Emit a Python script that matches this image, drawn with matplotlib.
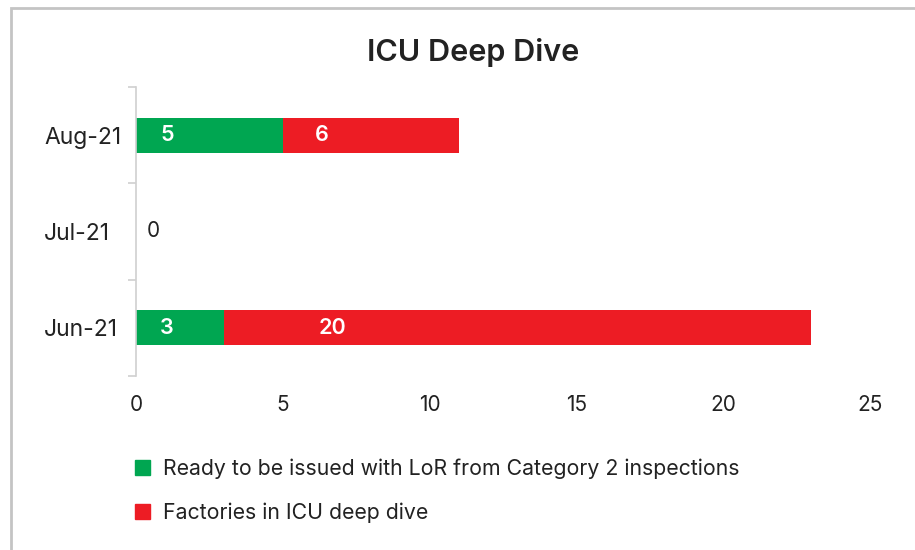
import numpy as np
import matplotlib.pyplot as plt
from matplotlib.patches import Rectangle

plt.rcParams['font.family'] = ['Inter', 'DejaVu Sans']

# ---------------- DATA ----------------
months = ["Jun-21", "Jul-21", "Aug-21"]
ready = [3, 0, 5]
factories = [20, 0, 6]
series_names = ["Ready to be issued with LoR from Category 2 inspections",
                "Factories in ICU deep dive"]
xticks = [0, 5, 10, 15, 20, 25]

GREEN = "#00A651"
RED = "#ED1C24"
TXT = "#222222"

# label offsets from segment start (as in the original, labels sit left of centre)
ready_lbl_off = [1.06, 0.6, 1.06]
fact_lbl_off = [3.68, 0.0, 1.33]

fig = plt.figure(figsize=(9.15, 5.5), dpi=100)
ax = fig.add_axes([0.1486, 0.3164, 0.8022, 0.5254])

y = np.arange(len(months))
h = 0.36
ax.barh(y, ready, height=h, color=GREEN, label=series_names[0])
ax.barh(y, factories, height=h, left=ready, color=RED, label=series_names[1])

# value labels
for i in range(len(months)):
    if ready[i] + factories[i] == 0:
        ax.text(ready_lbl_off[i], y[i], "0", ha="center", va="center",
                fontsize=15, color=TXT)
        continue
    ax.text(ready_lbl_off[i], y[i], str(ready[i]), ha="center", va="center",
            fontsize=15.5, color="white", fontweight="semibold")
    ax.text(ready[i] + fact_lbl_off[i], y[i], str(factories[i]), ha="center",
            va="center", fontsize=15.5, color="white", fontweight="semibold")

ax.set_xlim(0, 25)
ax.set_ylim(-0.5, 2.5)
ax.set_xticks(xticks)
ax.set_xticklabels([str(t) for t in xticks], fontsize=15, color=TXT)
ax.tick_params(axis="x", length=0, pad=14)
ax.set_yticks(y)
ax.set_yticklabels(months, fontsize=16.5, color=TXT, ha="left")
ax.tick_params(axis="y", which="major", length=0, pad=66)
ax.set_yticks([-0.5, 0.5, 1.5, 2.5], minor=True)
ax.tick_params(axis="y", which="minor", length=6, color="#d0d0d0", width=1.2)

for s in ["top", "right", "bottom"]:
    ax.spines[s].set_visible(False)
ax.spines["left"].set_color("#d0d0d0")
ax.spines["left"].set_linewidth(1.2)

fig.text(0.517, 0.905, "ICU Deep Dive", ha="center", va="center",
         fontsize=22, fontweight="semibold", color=TXT)

# legend
handles = [Rectangle((0, 0), 1, 1, color=GREEN), Rectangle((0, 0), 1, 1, color=RED)]
fig.legend(handles, series_names, loc="center left", bbox_to_anchor=(0.1475, 0.108),
           bbox_transform=fig.transFigure, frameon=False, fontsize=15.3,
           borderpad=0, borderaxespad=0,
           handlelength=0.72, handleheight=0.72, handletextpad=0.6, labelspacing=1.1,
           labelcolor=TXT)

# outer frame
fig.add_artist(Rectangle((11 / 915, -0.05), 1.0, 1 - 8 / 550 + 0.05,
                         transform=fig.transFigure, fill=False,
                         edgecolor="#c4c4c4", linewidth=2))

fig.savefig("out.png", dpi=100)
